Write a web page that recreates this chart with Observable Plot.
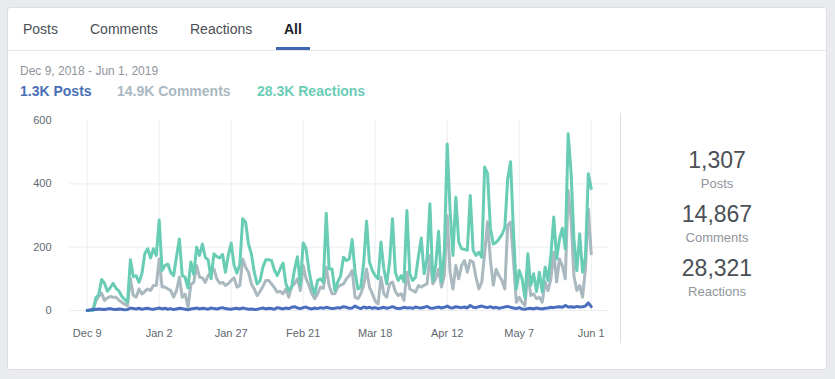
<!DOCTYPE html>
<html><head><meta charset="utf-8">
<script src="https://cdn.jsdelivr.net/npm/d3@7"></script>
<script src="https://cdn.jsdelivr.net/npm/@observablehq/plot@0.6"></script>
<style>
html,body{margin:0;padding:0;}
body{width:835px;height:379px;background:#e9ebee;font-family:"Liberation Sans",Arial,Helvetica,sans-serif;position:relative;overflow:hidden;}
#card{position:absolute;left:7px;top:7px;width:820px;height:363px;background:#fff;border:1px solid #dddfe2;border-radius:3px;box-sizing:border-box;}
.abs{position:absolute;white-space:nowrap;}
.tab{top:20px;font-size:14px;line-height:18px;color:#4b4f56;}
#chart{position:absolute;left:0;top:0;}
.stat{position:absolute;left:617px;width:200px;text-align:center;}
.num{font-size:23px;line-height:26px;color:#4b4f56;}
.lab{font-size:13px;line-height:16px;color:#90949c;}
.sum{top:83px;font-size:14px;line-height:17px;font-weight:bold;}
</style></head>
<body>
<div id="card"></div>
<div class="abs tab" style="left:23px">Posts</div>
<div class="abs tab" style="left:90px">Comments</div>
<div class="abs tab" style="left:190px">Reactions</div>
<div class="abs tab" style="left:284px;font-weight:bold;color:#1d2129">All</div>
<div class="abs" style="left:8px;top:50px;width:819px;height:1px;background:#e5e6e9"></div>
<div class="abs" style="left:276px;top:47px;width:34px;height:3px;background:#4267b2"></div>
<div class="abs" style="left:20px;top:64px;font-size:12px;line-height:14px;color:#90949c">Dec 9, 2018 - Jun 1, 2019</div>
<div class="abs sum" style="left:20px;color:#4a6fb5">1.3K Posts</div>
<div class="abs sum" style="left:117px;color:#aab8c1">14.9K Comments</div>
<div class="abs sum" style="left:257px;color:#6bcdb5">28.3K Reactions</div>
<div class="abs" style="left:620px;top:113px;width:1px;height:230px;background:#dddfe2"></div>
<div class="stat num" style="top:147px">1,307</div>
<div class="stat lab" style="top:176px">Posts</div>
<div class="stat num" style="top:201px">14,867</div>
<div class="stat lab" style="top:230px">Comments</div>
<div class="stat num" style="top:255px">28,321</div>
<div class="stat lab" style="top:284px">Reactions</div>
<div id="chart"></div>
<script>
const tickIndex = [0, 25, 50, 75, 100, 125, 150, 175];
const tickLabels = ["Dec 9", "Jan 2", "Jan 27", "Feb 21", "Mar 18", "Apr 12", "May 7", "Jun 1"];
const yTicks = [0, 200, 400, 600];
const gridY = [0, 200, 400];

const posts = [
  0, 2, 4, 3, 5, 4, 3, 5, 6, 4,
  3, 5, 4, 2, 3, 8, 6, 5, 7, 4,
  6, 7, 5, 4, 6, 8, 5, 7, 4, 6,
  3, 5, 7, 6, 4, 2, 5, 6, 8, 5,
  7, 6, 4, 8, 6, 5, 7, 9, 6, 5,
  4, 6, 7, 5, 8, 6, 4, 5, 3, 4,
  6, 8, 5, 7, 6, 4, 9, 7, 5, 8,
  6, 10, 12, 8, 6, 9, 11, 7, 5, 8,
  6, 9, 7, 10, 8, 6, 7, 9, 8, 12,
  10, 7, 8, 14, 9, 6, 11, 8, 10, 7,
  9, 6, 8, 10, 7, 9, 12, 8, 6, 7,
  10, 8, 9, 7, 11, 9, 8, 10, 13, 8,
  7, 9, 11, 8, 10, 14, 9, 8, 12, 10,
  9, 11, 8, 16, 10, 9, 12, 14, 11, 9,
  12, 8, 10, 7, 9, 11, 13, 10, 8, 6,
  9, 5, 4, 6, 7, 5, 8, 6, 5, 7,
  8, 10, 9, 11, 12, 10, 16, 11, 12, 10,
  13, 11, 12, 14, 24, 12
];
const comments = [
  0, 0, 0, 30, 45, 55, 32, 40, 44, 42,
  42, 33, 26, 20, 15, 100, 48, 42, 68, 52,
  60, 68, 63, 79, 79, 163, 74, 74, 68, 63,
  42, 63, 105, 42, 52, 11, 82, 89, 142, 105,
  103, 89, 110, 121, 131, 100, 86, 89, 79, 85,
  95, 103, 74, 79, 163, 137, 121, 84, 68, 47,
  60, 76, 95, 95, 84, 72, 58, 60, 53, 68,
  42, 76, 85, 100, 63, 142, 100, 80, 53, 37,
  53, 74, 70, 137, 79, 53, 53, 74, 80, 84,
  100, 110, 126, 42, 37, 53, 79, 131, 74, 53,
  30, 21, 105, 53, 42, 84, 90, 60, 47, 53,
  32, 121, 68, 63, 58, 79, 74, 80, 84, 174,
  84, 100, 131, 74, 110, 300, 121, 68, 142, 100,
  142, 158, 121, 158, 153, 105, 68, 90, 179, 280,
  160, 80, 130, 110, 95, 68, 269, 279, 160, 26,
  42, 26, 16, 121, 47, 53, 37, 42, 26, 90,
  63, 100, 184, 90, 163, 140, 100, 379, 290, 110,
  63, 79, 42, 131, 321, 179
];
const reactions = [
  0, 0, 0, 40, 50, 98, 86, 61, 72, 86,
  70, 62, 45, 35, 26, 160, 107, 110, 89, 116,
  180, 195, 166, 195, 174, 286, 126, 142, 147, 120,
  110, 170, 226, 110, 105, 71, 153, 114, 200, 174,
  210, 168, 160, 100, 179, 170, 166, 177, 121, 175,
  213, 142, 118, 145, 290, 279, 210, 179, 121, 84,
  93, 137, 160, 160, 158, 128, 110, 131, 150, 84,
  63, 74, 130, 170, 80, 213, 195, 126, 80, 53,
  95, 100, 89, 307, 131, 131, 63, 90, 110, 168,
  158, 163, 224, 121, 68, 74, 150, 282, 153, 126,
  110, 100, 216, 131, 84, 153, 290, 120, 95, 110,
  90, 316, 116, 95, 105, 170, 229, 116, 163, 337,
  95, 142, 250, 90, 184, 526, 316, 174, 358, 216,
  195, 193, 190, 363, 190, 174, 184, 168, 453, 432,
  260, 210, 215, 226, 240, 260, 416, 470, 250, 68,
  126, 100, 40, 179, 79, 116, 60, 121, 58, 137,
  95, 174, 295, 163, 226, 260, 195, 558, 437, 226,
  126, 242, 121, 170, 432, 385
];

const colors = {posts: "#4a6ebe", comments: "#aab8c0", reactions: "#68cdb4"};
const toRows = arr => arr.map((v, i) => ({i, v}));

const chart = Plot.plot({
  width: 835,
  height: 379,
  marginLeft: 69,
  marginRight: 227,
  marginTop: 120,
  marginBottom: 69,
  x: {domain: [0, 175], range: [86.7, 590.7]},
  y: {domain: [0, 600]},
  style: {fontFamily: "'Liberation Sans', Arial, sans-serif", fontSize: "11px", color: "#606770", background: "transparent"},
  marks: [
    Plot.ruleY(gridY, {stroke: "#ebedf0", strokeWidth: 1, strokeOpacity: 1}),
    Plot.ruleX(tickIndex, {stroke: "#ebedf0", strokeWidth: 1, strokeOpacity: 1}),
    Plot.axisY(yTicks, {tickSize: 0, tickPadding: 18, label: null, fill: "#606770"}),
    Plot.axisX(tickIndex, {tickSize: 0, tickPadding: 19, label: null, fill: "#606770",
      tickFormat: d => tickLabels[tickIndex.indexOf(d)]}),
    Plot.line(toRows(comments), {x: "i", y: "v", stroke: colors.comments, strokeWidth: 3, strokeLinejoin: "round"}),
    Plot.line(toRows(reactions), {x: "i", y: "v", stroke: colors.reactions, strokeWidth: 3, strokeLinejoin: "round"}),
    Plot.line(toRows(posts), {x: "i", y: "v", stroke: colors.posts, strokeWidth: 3, strokeLinejoin: "round"})
  ]
});
document.getElementById("chart").appendChild(chart);
</script>
</body></html>
